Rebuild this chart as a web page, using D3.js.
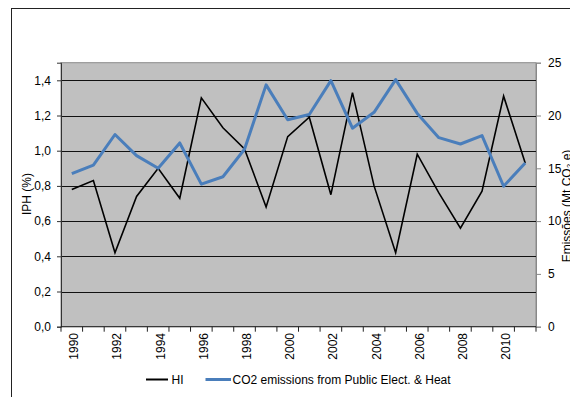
<!DOCTYPE html>
<html><head><meta charset="utf-8">
<script src="https://cdn.jsdelivr.net/npm/d3@7/dist/d3.min.js"></script>
<style>
html,body{margin:0;padding:0;background:#fff;}
svg{display:block;font-family:"Liberation Sans",Arial,sans-serif;}
</style></head>
<body>
<svg id="chart" width="570" height="397"></svg>
<script>
const years = [1990,1991,1992,1993,1994,1995,1996,1997,1998,1999,2000,2001,2002,2003,2004,2005,2006,2007,2008,2009,2010,2011];
const hiValues = [0.78,0.83,0.42,0.74,0.90,0.73,1.30,1.13,1.01,0.68,1.08,1.19,0.75,1.33,0.80,0.42,0.98,0.76,0.56,0.77,1.31,0.93];
const co2Values = [14.5,15.3,18.2,16.2,15.0,17.4,13.5,14.2,16.8,22.9,19.6,20.1,23.3,18.8,20.3,23.4,20.2,17.9,17.3,18.1,13.3,15.5];
const leftTicks = [0,0.2,0.4,0.6,0.8,1.0,1.2,1.4];
const rightTicks = [0,5,10,15,20,25];
const yearLabels = [1990,1992,1994,1996,1998,2000,2002,2004,2006,2008,2010];
const seriesNames = ["HI","CO2 emissions from Public Elect. & Heat"];
const leftTitle = "IPH (%)";
const rightTitle = "Emissões (Mt CO\u2082 e)";

const svg = d3.select("#chart");
const L = 61, R = 536, T = 62.7, B = 326.7;

// outer chart border
svg.append("rect").attr("x",11.5).attr("y",8.5).attr("width",620).attr("height",420)
  .attr("fill","none").attr("stroke","#222").attr("stroke-width",1);

const x = d3.scaleBand().domain(years).range([L,R]).padding(0);
const yL = d3.scaleLinear().domain([0,1.5]).range([B,T]);
const yR = d3.scaleLinear().domain([0,25]).range([B,T]);

// plot area
svg.append("rect").attr("x",L).attr("y",T).attr("width",R-L).attr("height",B-T)
  .attr("fill","#C0C0C0").attr("stroke","#8a8a8a").attr("stroke-width",1);

// gridlines
svg.append("g").selectAll("line").data(leftTicks.filter(d=>d>0)).join("line")
  .attr("x1",L).attr("x2",R).attr("y1",d=>Math.round(yL(d))+0.5).attr("y2",d=>Math.round(yL(d))+0.5)
  .attr("stroke","#111").attr("stroke-width",1.2);

// left axis
const gL = svg.append("g").attr("transform",`translate(${L},0)`)
  .call(d3.axisLeft(yL).tickValues(leftTicks).tickSize(4).tickPadding(6)
    .tickFormat(d=>d3.format(".1f")(d).replace(".",",")));
gL.select(".domain").attr("stroke","#333");
gL.selectAll(".tick line").attr("stroke","#333");
gL.selectAll("text").attr("font-size",12).attr("fill","#000").attr("font-family","Liberation Sans, Arial, sans-serif");

// right axis
const gR = svg.append("g").attr("transform",`translate(${R},0)`)
  .call(d3.axisRight(yR).tickValues(rightTicks).tickSize(5).tickPadding(7));
gR.select(".domain").attr("stroke","#888");
gR.selectAll(".tick line").attr("stroke","#888");
gR.selectAll("text").attr("font-size",12).attr("fill","#000").attr("font-family","Liberation Sans, Arial, sans-serif");

// bottom axis: ticks at category boundaries
const gB = svg.append("g");
gB.append("line").attr("x1",L).attr("x2",R).attr("y1",B).attr("y2",B).attr("stroke","#222");
const bounds = years.map(d=>x(d)).concat([x(years[years.length-1])+x.bandwidth()]);
gB.selectAll("line.tk").data(bounds).join("line").attr("class","tk")
  .attr("x1",d=>d).attr("x2",d=>d).attr("y1",B).attr("y2",B+5).attr("stroke","#222");
gB.selectAll("text").data(yearLabels).join("text")
  .attr("transform",d=>`translate(${x(d)+x.bandwidth()/2+6.5},333) rotate(-90)`)
  .attr("text-anchor","end").attr("font-size",12).text(d=>d);

// lines
const lineHI = d3.line().x((d,i)=>x(years[i])+x.bandwidth()/2).y(d=>yL(d));
const lineCO2 = d3.line().x((d,i)=>x(years[i])+x.bandwidth()/2).y(d=>yR(d));
svg.append("path").datum(hiValues).attr("d",lineHI).attr("fill","none")
  .attr("stroke","#000").attr("stroke-width",1.6).attr("stroke-linejoin","miter");
svg.append("path").datum(co2Values).attr("d",lineCO2).attr("fill","none")
  .attr("stroke","#4A7EBB").attr("stroke-width",3).attr("stroke-linejoin","round");

// axis titles
svg.append("text").attr("transform",`translate(31,194) rotate(-90)`)
  .attr("text-anchor","middle").attr("font-size",12).text(leftTitle);
svg.append("text").attr("transform",`translate(570.5,206) rotate(-90)`)
  .attr("text-anchor","middle").attr("font-size",12).text(rightTitle);

// legend
const lg = svg.append("g");
lg.append("line").attr("x1",146).attr("x2",168).attr("y1",379.5).attr("y2",379.5)
  .attr("stroke","#000").attr("stroke-width",2);
lg.append("text").attr("x",171.5).attr("y",384).attr("font-size",12).text(seriesNames[0]);
lg.append("line").attr("x1",205.5).attr("x2",231).attr("y1",379.5).attr("y2",379.5)
  .attr("stroke","#4A7EBB").attr("stroke-width",3);
lg.append("text").attr("x",232.5).attr("y",384).attr("font-size",12).text(seriesNames[1]);
</script>
</body></html>
